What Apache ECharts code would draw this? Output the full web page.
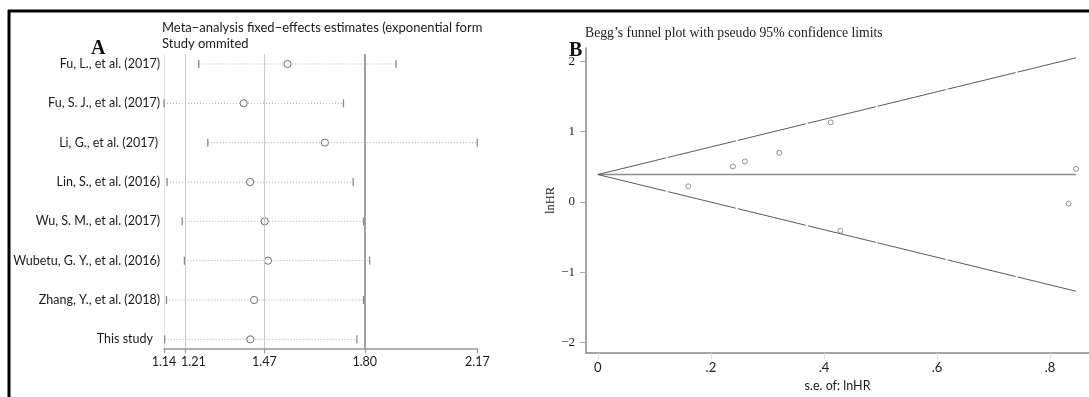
<!DOCTYPE html>
<html>
<head>
<meta charset="utf-8">
<script src="https://cdn.jsdelivr.net/npm/echarts@6/dist/echarts.min.js"></script>
<style>
  html, body { margin: 0; padding: 0; background: #fff; }
  #chart { width: 1089px; height: 397px; }
</style>
</head>
<body>
<div id="chart"></div>
<script>
// Panel A: influence analysis, each row omits one study
const studies = [
  'Fu, L., et al. (2017)',
  'Fu, S. J., et al. (2017)',
  'Li, G., et al. (2017)',
  'Lin, S., et al. (2016)',
  'Wu, S. M., et al. (2017)',
  'Wubetu, G. Y., et al. (2016)',
  'Zhang, Y., et al. (2018)',
  'This study'
];
const estimates = [1.546, 1.402, 1.669, 1.423, 1.471, 1.482, 1.436, 1.424];
const lowerCI   = [1.254, 1.140, 1.284, 1.150, 1.200, 1.207, 1.148, 1.142];
const upperCI   = [1.903, 1.730, 2.170, 1.762, 1.796, 1.816, 1.796, 1.774];
const overallLines = [1.21, 1.47, 1.80];   // pooled lower CI, estimate, upper CI
const xTicksA = [1.14, 1.21, 1.47, 1.80, 2.17];

// Panel B: Begg's funnel plot
const seLnHR = [0.160, 0.239, 0.260, 0.321, 0.412, 0.429, 0.833, 0.846];
const lnHR   = [0.222, 0.505, 0.576, 0.698, 1.132, -0.410, -0.024, 0.471];
const pooledLine = [[0, 0.39], [0.846, 0.39]];
const upperLimit = [[0, 0.39], [0.846, 2.05]];
const lowerLimit = [[0, 0.39], [0.846, -1.27]];
const yTicksB = [-2, -1, 0, 1, 2];
const xTicksB = [0, 0.2, 0.4, 0.6, 0.8];

const sansA = 'Lato, "Open Sans", sans-serif';
const serif = '"Liberation Serif", "DejaVu Serif", serif';

const forestData = studies.map((s, i) => [lowerCI[i], upperCI[i], estimates[i], i]);

const chart = echarts.init(document.getElementById('chart'), null, { renderer: 'canvas' });

chart.setOption({
  animation: false,
  backgroundColor: '#fff',
  title: [
    { text: 'Meta\u2212analysis fixed\u2212effects estimates (exponential form\nStudy ommited',
      left: 162, top: 20, padding: 0,
      textStyle: { fontFamily: sansA, fontSize: 13, fontWeight: 'normal', color: '#1a1a1a', lineHeight: 16 } },
    { text: 'A', left: 91, top: 39, padding: 0,
      textStyle: { fontFamily: serif, fontSize: 20, fontWeight: 'bold', color: '#111' } },
    { text: 'Begg\u2019s funnel plot with pseudo 95% confidence limits', left: 585, top: 26, padding: 0,
      textStyle: { fontFamily: serif, fontSize: 13.7, fontWeight: 'normal', color: '#1a1a1a' } },
    { text: 'B', left: 569, top: 41, padding: 0,
      textStyle: { fontFamily: serif, fontSize: 20, fontWeight: 'bold', color: '#111' } }
  ],
  graphic: [
    { type: 'line', shape: { x1: 8, y1: 11, x2: 1089, y2: 11 }, style: { stroke: '#000', lineWidth: 3 } },
    { type: 'line', shape: { x1: 9, y1: 10, x2: 9, y2: 397 }, style: { stroke: '#000', lineWidth: 3 } }
  ],
  grid: [
    { left: 164, top: 54, width: 313.3, height: 294.3 },
    { left: 586, top: 48, right: 0, height: 307 }
  ],
  xAxis: [
    {
      gridIndex: 0, type: 'value', min: 1.14, max: 2.17, position: 'bottom',
      splitLine: { show: false },
      axisLine: { show: true, onZero: false, lineStyle: { color: '#999', width: 1.5 } },
      axisTick: { show: true, customValues: xTicksA, length: 5, lineStyle: { color: '#999', width: 1.2 } },
      axisLabel: {
        customValues: xTicksA, margin: 7, color: '#1a1a1a', fontFamily: sansA, fontSize: 12.5,
        formatter: v => (Math.abs(v - 1.21) < 1e-9 ? '{s|' + v.toFixed(2) + '}' : v.toFixed(2)),
        rich: { s: { fontFamily: sansA, fontSize: 12.5, color: '#1a1a1a', padding: [0, 0, 0, 16] } }
      }
    },
    {
      gridIndex: 1, type: 'value', min: -0.021, max: 0.869, position: 'bottom',
      splitLine: { show: false },
      axisLine: { show: true, onZero: false, lineStyle: { color: '#888', width: 1.5 } },
      axisTick: { show: true, customValues: xTicksB, length: 6, lineStyle: { color: '#ddd', width: 1 } },
      axisLabel: {
        customValues: xTicksB, margin: 8, color: '#1a1a1a', fontFamily: sansA, fontSize: 13,
        formatter: v => (v === 0 ? '0' : v.toFixed(1).replace(/^0/, ''))
      },
      name: 's.e. of: lnHR', nameLocation: 'middle', nameGap: 22,
      nameTextStyle: { fontFamily: sansA, fontSize: 12.5, color: '#1a1a1a' }
    }
  ],
  yAxis: [
    {
      gridIndex: 0, type: 'value', inverse: true, min: -0.254, max: 7.228, position: 'left',
      splitLine: { show: false },
      axisLine: { show: true, onZero: false, lineStyle: { color: '#e4e4e4', width: 1 } },
      axisTick: { show: false },
      axisLabel: {
        customValues: [0, 1, 2, 3, 4, 5, 6, 7], margin: 4, color: '#1a1a1a', fontFamily: sansA, fontSize: 12.5,
        formatter: v => {
          const name = studies[Math.round(v)];
          if (name === 'This study') return '{a|' + name + '}';
          if (name.indexOf('Li, G.') === 0) return '{b|' + name + '}';
          return name;
        },
        rich: {
          a: { fontFamily: sansA, fontSize: 12.5, color: '#1a1a1a', padding: [0, 7, 0, 0] },
          b: { fontFamily: sansA, fontSize: 12.5, color: '#1a1a1a', padding: [0, 2, 0, 0] }
        }
      }
    },
    {
      gridIndex: 1, type: 'value', min: -2.15, max: 2.19, position: 'left',
      splitLine: { show: false },
      axisLine: { show: true, onZero: false, lineStyle: { color: '#888', width: 1.5 } },
      axisTick: { show: true, customValues: yTicksB, length: 6, lineStyle: { color: '#aaa', width: 1 } },
      axisLabel: {
        customValues: yTicksB, margin: 11, color: '#1a1a1a', fontFamily: serif, fontSize: 13,
        formatter: v => (v < 0 ? '\u2212' + Math.abs(v) : String(v))
      },
      name: 'lnHR', nameLocation: 'middle', nameGap: 20, nameRotate: 90,
      nameTextStyle: { fontFamily: serif, fontSize: 12.5, color: '#1a1a1a' }
    }
  ],
  series: [
    // pooled estimate and its confidence bounds as vertical references
    {
      type: 'line', xAxisIndex: 0, yAxisIndex: 0, data: [], silent: true,
      markLine: {
        symbol: 'none', silent: true, label: { show: false },
        data: overallLines.map((v, i) => ({
          xAxis: v,
          lineStyle: i === 2 ? { color: '#8a8a8a', width: 1.6, type: 'solid' }
                             : { color: '#c9c9c9', width: 1, type: 'solid' }
        }))
      }
    },
    {
      type: 'custom', xAxisIndex: 0, yAxisIndex: 0, data: forestData,
      encode: { x: [0, 1, 2], y: 3 },
      renderItem: (params, api) => {
        const row = api.value(3);
        const pLo = api.coord([api.value(0), row]);
        const pHi = api.coord([api.value(1), row]);
        const pEst = api.coord([api.value(2), row]);
        return {
          type: 'group',
          children: [
            { type: 'line', shape: { x1: pLo[0], y1: pLo[1], x2: pHi[0], y2: pHi[1] },
              style: { stroke: '#a8a8a8', lineWidth: 1, lineDash: [1, 2] } },
            { type: 'line', shape: { x1: pLo[0], y1: pLo[1] - 4, x2: pLo[0], y2: pLo[1] + 4 },
              style: { stroke: '#8a8a8a', lineWidth: 1.3 } },
            { type: 'line', shape: { x1: pHi[0], y1: pHi[1] - 4, x2: pHi[0], y2: pHi[1] + 4 },
              style: { stroke: '#8a8a8a', lineWidth: 1.3 } },
            { type: 'circle', shape: { cx: pEst[0], cy: pEst[1], r: 3.6 },
              style: { fill: '#fff', stroke: '#6e6e6e', lineWidth: 1 } }
          ]
        };
      }
    },
    // funnel: pooled line and pseudo 95% limits
    {
      type: 'line', xAxisIndex: 1, yAxisIndex: 1, data: pooledLine, symbol: 'none',
      lineStyle: { color: '#8c8c8c', width: 1.6 }
    },
    {
      type: 'line', xAxisIndex: 1, yAxisIndex: 1, data: upperLimit, symbol: 'none',
      lineStyle: { color: '#5a5a5a', width: 1, type: [70, 2] }
    },
    {
      type: 'line', xAxisIndex: 1, yAxisIndex: 1, data: lowerLimit, symbol: 'none',
      lineStyle: { color: '#5a5a5a', width: 1, type: [70, 2] }
    },
    {
      type: 'scatter', xAxisIndex: 1, yAxisIndex: 1,
      data: seLnHR.map((s, i) => [s, lnHR[i]]),
      symbol: 'circle', symbolSize: 5,
      itemStyle: { color: '#fff', borderColor: '#6a6a6a', borderWidth: 0.9 }
    }
  ]
});
</script>
</body>
</html>
